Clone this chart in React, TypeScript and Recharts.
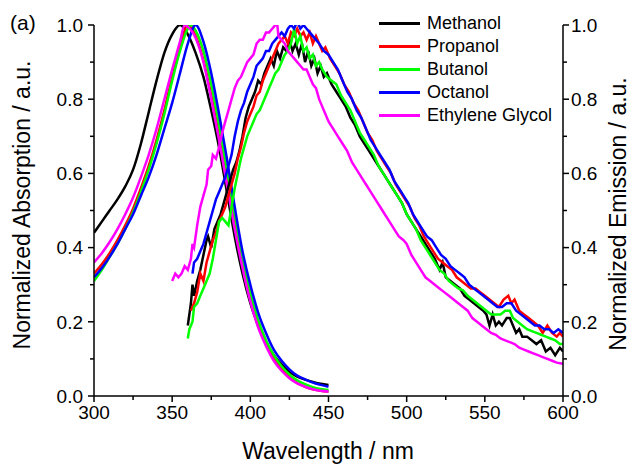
import React from "react";
import { LineChart, Line, XAxis, YAxis, Legend, Label } from "recharts";

type Pt = [number, number];

// absorption spectra (wavelength nm, normalized)
const methanolAbs: Pt[] = [
  [300, 0.44], [305, 0.47], [310, 0.5], [315, 0.53], [320, 0.565], [325, 0.61], [330, 0.68],
  [335, 0.765], [340, 0.85], [345, 0.925], [350, 0.975], [355, 1.0], [360, 0.975], [365, 0.925],
  [370, 0.86], [375, 0.77], [380, 0.67], [385, 0.55], [390, 0.43], [395, 0.33], [400, 0.25],
  [405, 0.19], [410, 0.145], [415, 0.11], [420, 0.085], [425, 0.065], [430, 0.052], [435, 0.044],
  [440, 0.038], [445, 0.033], [450, 0.03],
];
const propanolAbs: Pt[] = [
  [300, 0.33], [305, 0.355], [310, 0.385], [315, 0.42], [320, 0.46], [325, 0.505], [330, 0.56],
  [335, 0.62], [340, 0.69], [345, 0.77], [350, 0.86], [355, 0.94], [360, 1.0], [365, 0.97],
  [370, 0.905], [375, 0.81], [380, 0.7], [385, 0.58], [390, 0.46], [395, 0.35], [400, 0.26],
  [405, 0.19], [410, 0.14], [415, 0.1], [420, 0.072], [425, 0.05], [430, 0.035], [435, 0.025],
  [440, 0.018], [445, 0.014], [450, 0.012],
];
const butanolAbs: Pt[] = [
  [300, 0.31], [305, 0.34], [310, 0.375], [315, 0.41], [320, 0.45], [325, 0.495], [330, 0.55],
  [335, 0.61], [340, 0.68], [345, 0.76], [350, 0.85], [355, 0.93], [360, 0.99], [362, 1.0],
  [365, 0.985], [370, 0.93], [375, 0.84], [380, 0.73], [385, 0.61], [390, 0.49], [395, 0.375],
  [400, 0.28], [405, 0.205], [410, 0.15], [415, 0.11], [420, 0.08], [425, 0.058], [430, 0.042],
  [435, 0.032], [440, 0.024], [445, 0.019], [450, 0.016],
];
const octanolAbs: Pt[] = [
  [300, 0.32], [305, 0.345], [310, 0.375], [315, 0.41], [320, 0.45], [325, 0.49], [330, 0.54],
  [335, 0.59], [340, 0.65], [345, 0.72], [350, 0.79], [355, 0.87], [360, 0.95], [365, 1.0],
  [370, 0.955], [375, 0.87], [380, 0.76], [385, 0.64], [390, 0.51], [395, 0.39], [400, 0.3],
  [405, 0.225], [410, 0.17], [415, 0.125], [420, 0.095], [425, 0.072], [430, 0.055], [435, 0.045],
  [440, 0.036], [445, 0.03], [450, 0.025],
];
const glycolAbs: Pt[] = [
  [300, 0.36], [305, 0.385], [310, 0.415], [315, 0.45], [320, 0.49], [325, 0.535], [330, 0.59],
  [335, 0.65], [340, 0.72], [345, 0.8], [350, 0.88], [355, 0.955], [358, 1.0], [360, 0.995],
  [365, 0.965], [370, 0.9], [375, 0.8], [380, 0.69], [385, 0.57], [390, 0.45], [395, 0.345],
  [400, 0.255], [405, 0.185], [410, 0.135], [415, 0.095], [420, 0.068], [425, 0.048], [430, 0.034],
  [435, 0.025], [440, 0.018], [445, 0.014], [450, 0.012],
];

// emission spectra (wavelength nm, normalized)
const methanolEm: Pt[] = [
  [360, 0.19], [361, 0.22], [362, 0.25], [363, 0.3], [364, 0.27], [366, 0.31], [368, 0.34], [370, 0.38],
  [372, 0.42], [373, 0.43], [375, 0.4], [377, 0.45], [379, 0.47], [381, 0.49], [383, 0.52], [385, 0.55],
  [387, 0.58], [389, 0.61], [391, 0.63], [393, 0.66], [395, 0.7], [397, 0.75], [399, 0.78], [401, 0.8],
  [403, 0.82], [405, 0.85], [407, 0.84], [409, 0.87], [411, 0.89], [413, 0.91], [415, 0.89], [417, 0.93],
  [419, 0.91], [421, 0.94], [423, 0.93], [425, 0.96], [427, 0.93], [429, 0.95], [431, 0.92], [433, 0.95],
  [435, 0.9], [437, 0.93], [439, 0.89], [441, 0.91], [443, 0.87], [445, 0.89], [447, 0.86], [449, 0.87],
  [452, 0.84], [455, 0.82], [458, 0.8], [461, 0.78], [464, 0.75], [467, 0.73], [470, 0.7], [473, 0.68],
  [476, 0.66], [479, 0.64], [482, 0.62], [485, 0.6], [488, 0.58], [491, 0.56], [494, 0.54], [497, 0.52],
  [500, 0.49], [503, 0.47], [506, 0.45], [509, 0.43], [512, 0.41], [515, 0.39], [518, 0.37], [521, 0.34],
  [523, 0.36], [525, 0.32], [528, 0.31], [531, 0.3], [534, 0.29], [537, 0.27], [540, 0.26], [543, 0.25],
  [546, 0.24], [549, 0.23], [551, 0.22], [553, 0.19], [555, 0.22], [557, 0.19], [559, 0.2], [561, 0.19],
  [564, 0.21], [566, 0.21], [568, 0.19], [570, 0.17], [572, 0.18], [574, 0.16], [577, 0.16], [580, 0.15],
  [583, 0.14], [586, 0.15], [589, 0.12], [592, 0.13], [595, 0.11], [598, 0.13], [600, 0.12],
];
const propanolEm: Pt[] = [
  [362, 0.23], [364, 0.25], [366, 0.28], [368, 0.33], [370, 0.31], [372, 0.36], [374, 0.39], [376, 0.42],
  [378, 0.44], [380, 0.47], [382, 0.49], [384, 0.51], [386, 0.54], [388, 0.57], [390, 0.6], [392, 0.64],
  [394, 0.67], [396, 0.71], [398, 0.74], [400, 0.76], [402, 0.78], [404, 0.81], [406, 0.82], [408, 0.85],
  [410, 0.87], [412, 0.89], [414, 0.91], [416, 0.93], [418, 0.95], [420, 0.96], [422, 0.97], [424, 0.95],
  [426, 0.98], [428, 0.97], [430, 0.99], [432, 0.97], [434, 0.98], [436, 0.96], [438, 0.98], [440, 0.95],
  [442, 0.97], [444, 0.95], [446, 0.93], [448, 0.94], [451, 0.91], [454, 0.89], [457, 0.87], [460, 0.84],
  [463, 0.82], [466, 0.79], [469, 0.77], [472, 0.74], [475, 0.71], [478, 0.69], [481, 0.66], [484, 0.64],
  [487, 0.62], [490, 0.6], [493, 0.57], [496, 0.55], [499, 0.53], [502, 0.51], [505, 0.48], [508, 0.46],
  [511, 0.43], [514, 0.41], [517, 0.39], [520, 0.37], [523, 0.36], [526, 0.35], [529, 0.34], [532, 0.32],
  [535, 0.31], [538, 0.3], [541, 0.29], [544, 0.29], [547, 0.28], [550, 0.27], [553, 0.26], [556, 0.25],
  [559, 0.24], [562, 0.26], [565, 0.27], [567, 0.25], [569, 0.26], [572, 0.23], [575, 0.22], [578, 0.21],
  [581, 0.2], [584, 0.19], [587, 0.17], [590, 0.19], [593, 0.17], [596, 0.16], [598, 0.17], [600, 0.16],
];
const butanolEm: Pt[] = [
  [360, 0.155], [361, 0.18], [363, 0.2], [364, 0.24], [366, 0.25], [368, 0.27], [370, 0.29], [372, 0.31],
  [374, 0.33], [376, 0.37], [378, 0.42], [380, 0.47], [382, 0.48], [384, 0.47], [386, 0.46], [388, 0.51],
  [390, 0.56], [392, 0.6], [394, 0.64], [396, 0.67], [398, 0.7], [400, 0.72], [402, 0.74], [404, 0.76],
  [406, 0.77], [408, 0.79], [410, 0.81], [412, 0.83], [414, 0.85], [416, 0.87], [418, 0.88], [420, 0.9],
  [422, 0.92], [424, 0.93], [426, 0.95], [428, 0.99], [430, 0.95], [432, 0.97], [434, 0.93], [436, 0.94],
  [438, 0.91], [440, 0.92], [442, 0.89], [444, 0.9], [446, 0.88], [449, 0.86], [452, 0.85], [455, 0.84],
  [458, 0.81], [461, 0.79], [464, 0.77], [467, 0.74], [470, 0.71], [473, 0.69], [476, 0.67], [479, 0.65],
  [482, 0.62], [485, 0.6], [488, 0.58], [491, 0.56], [494, 0.54], [497, 0.52], [500, 0.49], [503, 0.47],
  [506, 0.45], [509, 0.42], [512, 0.4], [515, 0.38], [518, 0.36], [521, 0.34], [524, 0.33], [527, 0.31],
  [530, 0.3], [533, 0.29], [536, 0.285], [539, 0.27], [542, 0.26], [545, 0.25], [548, 0.24], [551, 0.23],
  [554, 0.22], [557, 0.22], [560, 0.22], [563, 0.23], [566, 0.23], [568, 0.21], [571, 0.2], [574, 0.19],
  [577, 0.18], [580, 0.175], [583, 0.17], [586, 0.165], [589, 0.16], [592, 0.155], [595, 0.15], [598, 0.14],
  [600, 0.14],
];
const octanolEm: Pt[] = [
  [363, 0.33], [364, 0.36], [366, 0.37], [368, 0.39], [370, 0.41], [372, 0.44], [374, 0.47], [376, 0.5],
  [378, 0.53], [380, 0.55], [382, 0.57], [384, 0.59], [386, 0.62], [388, 0.65], [390, 0.7], [392, 0.74],
  [394, 0.77], [396, 0.79], [398, 0.82], [400, 0.84], [402, 0.86], [404, 0.89], [406, 0.9], [408, 0.91],
  [410, 0.93], [412, 0.93], [414, 0.95], [416, 0.96], [418, 0.97], [420, 0.98], [422, 0.97], [424, 0.99],
  [426, 1.0], [428, 0.99], [430, 1.01], [432, 0.99], [434, 1.0], [436, 0.99], [438, 0.98], [440, 0.97],
  [442, 0.96], [444, 0.95], [447, 0.93], [450, 0.92], [453, 0.9], [456, 0.88], [459, 0.85], [462, 0.82],
  [465, 0.8], [468, 0.77], [471, 0.75], [474, 0.72], [477, 0.69], [480, 0.67], [483, 0.65], [486, 0.63],
  [489, 0.61], [492, 0.58], [495, 0.56], [498, 0.54], [501, 0.52], [504, 0.49], [507, 0.47], [510, 0.45],
  [513, 0.43], [516, 0.42], [519, 0.4], [522, 0.38], [525, 0.37], [528, 0.35], [531, 0.34], [534, 0.33],
  [537, 0.32], [540, 0.3], [543, 0.29], [546, 0.28], [549, 0.27], [552, 0.26], [555, 0.25], [558, 0.24],
  [561, 0.24], [564, 0.25], [567, 0.25], [570, 0.23], [573, 0.22], [576, 0.21], [579, 0.2], [582, 0.19],
  [585, 0.19], [588, 0.18], [591, 0.18], [594, 0.17], [597, 0.18], [600, 0.17],
];
const glycolEm: Pt[] = [
  [350, 0.31], [352, 0.33], [354, 0.32], [356, 0.33], [358, 0.35], [360, 0.34], [362, 0.37], [363, 0.41],
  [364, 0.4], [366, 0.46], [368, 0.51], [370, 0.54], [372, 0.57], [373, 0.61], [375, 0.62], [376, 0.65],
  [378, 0.64], [380, 0.67], [382, 0.71], [384, 0.74], [386, 0.77], [388, 0.8], [390, 0.83], [392, 0.85],
  [394, 0.86], [396, 0.88], [398, 0.9], [400, 0.91], [402, 0.92], [404, 0.95], [406, 0.96], [408, 0.96],
  [410, 0.98], [412, 0.98], [414, 0.99], [416, 1.0], [417, 1.01], [418, 0.97], [420, 0.96], [422, 0.95],
  [424, 0.93], [426, 0.92], [428, 0.91], [430, 0.9], [432, 0.89], [434, 0.88], [436, 0.88], [438, 0.86],
  [440, 0.84], [442, 0.83], [444, 0.8], [446, 0.78], [448, 0.76], [450, 0.74], [453, 0.72], [456, 0.7],
  [459, 0.68], [462, 0.66], [465, 0.63], [468, 0.61], [471, 0.59], [474, 0.57], [477, 0.55], [480, 0.53],
  [483, 0.51], [486, 0.49], [489, 0.47], [492, 0.45], [495, 0.43], [498, 0.42], [500, 0.41], [503, 0.38],
  [506, 0.36], [509, 0.34], [512, 0.32], [515, 0.31], [518, 0.3], [521, 0.29], [524, 0.28], [527, 0.27],
  [530, 0.26], [533, 0.25], [536, 0.24], [539, 0.23], [542, 0.21], [545, 0.2], [548, 0.19], [551, 0.18],
  [554, 0.17], [557, 0.165], [560, 0.155], [563, 0.15], [566, 0.145], [569, 0.14], [572, 0.13], [575, 0.125],
  [578, 0.12], [581, 0.115], [584, 0.11], [587, 0.105], [590, 0.1], [593, 0.095], [596, 0.09], [600, 0.087],
];

const solvents = ["Methanol", "Propanol", "Butanol", "Octanol", "Ethylene Glycol"];
const colors = ["#000000", "#ff0000", "#00ff00", "#0000ff", "#ff00ff"];
const absSets = [methanolAbs, propanolAbs, butanolAbs, octanolAbs, glycolAbs];
const emSets = [methanolEm, propanolEm, butanolEm, octanolEm, glycolEm];

const xTicks = [300, 350, 400, 450, 500, 550, 600];
const xMinorTicks = [325, 375, 425, 475, 525, 575];
const yTicks = [0, 0.2, 0.4, 0.6, 0.8, 1.0];
const yMinorTicks = [0.1, 0.3, 0.5, 0.7, 0.9];

const allXTicks = [...xTicks, ...xMinorTicks].sort((a, b) => a - b);
const allYTicks = [...yTicks, ...yMinorTicks].sort((a, b) => a - b);

const FONT = "Arial, 'Liberation Sans', sans-serif";
const toRows = (pts: Pt[]) => pts.map(([x, y]) => ({ x, y }));
const axisStroke = { stroke: "#000", strokeWidth: 1.5 };
const isMajorX = (v: number) => xTicks.includes(v);
const isMajorY = (v: number) => yTicks.some((t) => Math.abs(t - v) < 1e-6);

// ticks drawn by hand so minor ticks can be shorter and unlabelled
const BottomTick = (props: any) => {
  const { x, y, payload } = props;
  const major = isMajorX(payload.value);
  return (
    <g>
      <line x1={x} x2={x} y1={y} y2={y + (major ? 6 : 4)} stroke="#000" strokeWidth={1.5} />
      {major && (
        <text x={x} y={y + 10} dy="0.71em" textAnchor="middle" fontSize={19} fontFamily={FONT} fill="#000">
          {payload.value}
        </text>
      )}
    </g>
  );
};

const LeftTick = (props: any) => {
  const { x, y, payload } = props;
  const major = isMajorY(payload.value);
  return (
    <g>
      <line x1={x - (major ? 6 : 4)} x2={x} y1={y} y2={y} stroke="#000" strokeWidth={1.5} />
      {major && (
        <text x={x - 11} y={y} dy="0.355em" textAnchor="end" fontSize={19} fontFamily={FONT} fill="#000">
          {payload.value.toFixed(1)}
        </text>
      )}
    </g>
  );
};

const RightTick = (props: any) => {
  const { x, y, payload } = props;
  const major = isMajorY(payload.value);
  return (
    <g>
      <line x1={x} x2={x + (major ? 6 : 4)} y1={y} y2={y} stroke="#000" strokeWidth={1.5} />
      {major && (
        <text x={x + 8} y={y} dy="0.355em" textAnchor="start" fontSize={19} fontFamily={FONT} fill="#000">
          {payload.value.toFixed(1)}
        </text>
      )}
    </g>
  );
};

const renderLegend = () => (
  <div style={{ fontFamily: FONT, fontSize: 18, color: "#000" }}>
    {solvents.map((s, i) => (
      <div key={s} style={{ display: "flex", alignItems: "center", height: 23 }}>
        <svg width={48} height={23}>
          <line x1={0} x2={41} y1={11.5} y2={11.5} stroke={colors[i]} strokeWidth={3} />
        </svg>
        <span>{s}</span>
      </div>
    ))}
  </div>
);

export default function App() {
  return (
    <div style={{ position: "absolute", left: 0, top: 0, background: "#fff" }}>
      <LineChart
        width={632}
        height={472}
        margin={{ top: 25, right: 9, bottom: 46, left: 34 }}
        style={{ fontFamily: FONT }}
      >
        <XAxis
          xAxisId="main"
          type="number"
          dataKey="x"
          domain={[300, 600]}
          allowDataOverflow
          ticks={allXTicks}
          interval={0}
          tick={<BottomTick />}
          tickSize={0}
          tickMargin={0}
          axisLine={axisStroke}
          tickLine={false}
          height={30}
        >
          <Label
            content={() => (
              <g fontFamily={FONT} fill="#000">
                <text x={328} y={459} textAnchor="middle" fontSize={23}>Wavelength / nm</text>
                <text x={10} y={30} fontSize={21}>(a)</text>
              </g>
            )}
          />
        </XAxis>
        <YAxis
          yAxisId="left"
          type="number"
          domain={[0, 1]}
          allowDataOverflow
          ticks={allYTicks}
          interval={0}
          tick={<LeftTick />}
          tickSize={0}
          tickMargin={0}
          axisLine={axisStroke}
          tickLine={false}
          width={60}
        >
          <Label
            content={() => (
              <text x={30} y={205} transform="rotate(-90, 30, 205)" textAnchor="middle" fontSize={23} fontFamily={FONT} fill="#000">
                Normalized Absorption / a.u.
              </text>
            )}
          />
        </YAxis>
        <YAxis
          yAxisId="right"
          orientation="right"
          type="number"
          domain={[0, 1]}
          allowDataOverflow
          ticks={allYTicks}
          interval={0}
          tick={<RightTick />}
          tickSize={0}
          tickMargin={0}
          axisLine={axisStroke}
          tickLine={false}
          width={60}
        >
          <Label
            content={() => (
              <text x={626} y={214} transform="rotate(-90, 626, 214)" textAnchor="middle" fontSize={23} fontFamily={FONT} fill="#000">
                Normalized Emission / a.u.
              </text>
            )}
          />
        </YAxis>
        <Legend
          layout="vertical"
          align="center"
          verticalAlign="middle"
          content={renderLegend}
          wrapperStyle={{ left: 379, top: 11.5, width: "auto" }}
        />
        {absSets.map((pts, i) => (
          <Line
            key={`abs-${solvents[i]}`}
            data={toRows(pts)}
            dataKey="y"
            xAxisId="main"
            yAxisId="left"
            type="monotone"
            stroke={colors[i]}
            strokeWidth={2.5}
            dot={false}
            legendType="none"
            isAnimationActive={false}
          />
        ))}
        {emSets.map((pts, i) => (
          <Line
            key={`em-${solvents[i]}`}
            name={solvents[i]}
            data={toRows(pts)}
            dataKey="y"
            xAxisId="main"
            yAxisId="right"
            type="linear"
            stroke={colors[i]}
            strokeWidth={2.5}
            dot={false}
            isAnimationActive={false}
          />
        ))}
      </LineChart>
    </div>
  );
}
